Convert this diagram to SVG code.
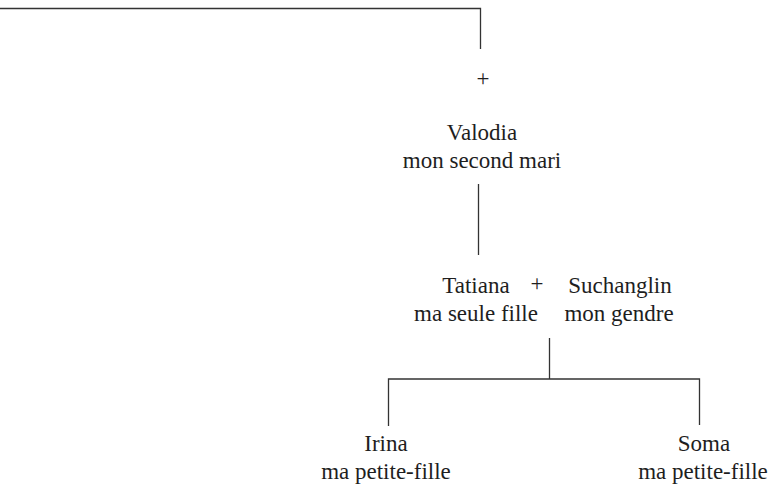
<svg xmlns="http://www.w3.org/2000/svg" width="773" height="487" viewBox="0 0 773 487">
<style>
text{font-family:"Liberation Serif","DejaVu Serif",serif;font-size:23px;fill:#1e1e1e;text-anchor:middle}
.l{stroke:#333;stroke-width:1.3;fill:none}
</style>
<rect width="773" height="487" fill="#fff"/>
<g id="connectors">
<polyline class="l" points="0,8.5 480.5,8.5 480.5,49"/>
<line class="l" x1="478.5" y1="184" x2="478.5" y2="255"/>
<line class="l" x1="549.5" y1="338" x2="549.5" y2="379"/>
<polyline class="l" points="388.5,426 388.5,379 699.5,379 699.5,425"/>
</g>
<g id="plus1"><text x="483" y="86">+</text></g>
<g id="valodia"><text x="482" y="140">Valodia</text><text x="482" y="168">mon second mari</text></g>
<g id="tatiana"><text x="476" y="293">Tatiana</text><text x="476" y="321">ma seule fille</text></g>
<g id="plus2"><text x="537" y="291">+</text></g>
<g id="suchanglin"><text x="620" y="293">Suchanglin</text><text x="619" y="321">mon gendre</text></g>
<g id="irina"><text x="386" y="451">Irina</text><text x="386" y="479">ma petite-fille</text></g>
<g id="soma"><text x="704" y="451">Soma</text><text x="703" y="479">ma petite-fille</text></g>
</svg>
